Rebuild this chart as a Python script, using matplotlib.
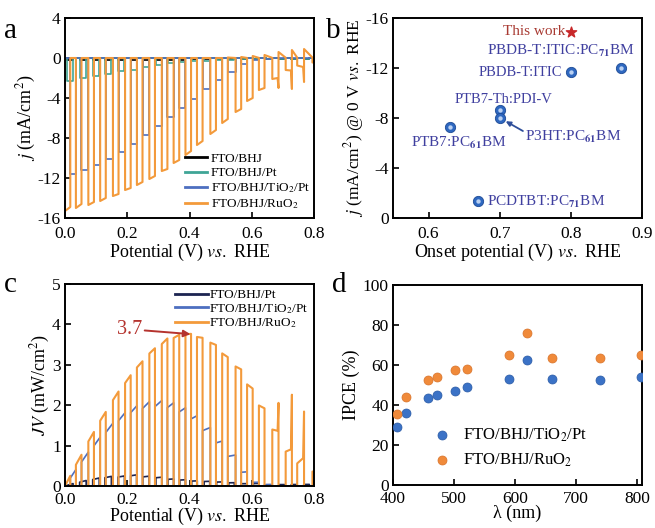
import matplotlib
matplotlib.use("Agg")
import matplotlib.pyplot as plt
import numpy as np

plt.rcParams["font.family"] = ["Liberation Serif", "DejaVu Serif"]
plt.rcParams["mathtext.fontset"] = "stix"
plt.rcParams["axes.unicode_minus"] = False

# ---------------- panel a / c : chopped light J-V ----------------
# FTO/BHJ/RuO2 light-on periods (V) and current levels (mA/cm2)
ru_on = [0.000, 0.035, 0.075, 0.113, 0.154, 0.193, 0.231, 0.271, 0.311, 0.349, 0.387,
         0.424, 0.467, 0.505, 0.548, 0.585, 0.623, 0.666, 0.709, 0.746, 0.795]
ru_off = [0.017, 0.053, 0.093, 0.131, 0.172, 0.211, 0.249, 0.289, 0.329, 0.367, 0.405,
          0.442, 0.485, 0.523, 0.566, 0.603, 0.641, 0.686, 0.729, 0.768, 0.800]
ru_j_start = [-15.3, -15.0, -14.7, -14.3, -13.8, -13.2, -12.7, -12.1, -11.3, -10.5, -9.7,
              -8.7, -7.6, -6.5, -5.4, -4.3, -3.2, -2.1, -1.2, -0.75, -0.45]
ru_j_end = [-14.9, -14.6, -14.4, -14.0, -13.6, -13.0, -12.4, -11.8, -11.1, -10.2, -9.3,
            -8.3, -7.2, -6.1, -5.1, -4.0, -3.0, -2.0, -1.25, -0.9, -0.45]
ru_spike = [0, 0, 0, 0, 0, 0, 0, 0, 0, 0, 0, 0, 0, 0, 0, 0, 0, -3.0, -3.1, -2.4, 0]
ru_dark = [0, 0, 0, 0, 0, 0, 0, 0, 0, 0, 0, 0, 0, 0.05, 0.1, 0.2, 0.3, 0.6, 0.8, 0.9, 0]

# FTO/BHJ/TiO2/Pt light-on periods and levels
ti_on = [0.017, 0.053, 0.093, 0.131, 0.172, 0.211, 0.249, 0.289, 0.329, 0.367,
         0.405, 0.442, 0.485, 0.523, 0.566, 0.603, 0.641, 0.686, 0.729, 0.768]
ti_off = [0.035, 0.075, 0.113, 0.154, 0.193, 0.231, 0.271, 0.311, 0.349, 0.387,
          0.424, 0.467, 0.505, 0.548, 0.585, 0.623, 0.666, 0.709, 0.746, 0.795]
ti_j = [-11.6, -11.2, -10.7, -10.1, -9.4, -8.6, -7.7, -6.8, -5.9, -5.0,
        -4.1, -3.1, -2.2, -1.4, -0.6, -0.15, -0.05, 0.0, 0.0, 0.0]

# FTO/BHJ/Pt and FTO/BHJ light-on periods and levels
pt_on = [0.005, 0.047, 0.089, 0.128, 0.170, 0.211, 0.250, 0.292, 0.331, 0.369,
         0.407, 0.447, 0.487, 0.526, 0.566, 0.605, 0.645, 0.687, 0.727, 0.767]
pt_off = [0.026, 0.068, 0.110, 0.149, 0.191, 0.230, 0.270, 0.311, 0.349, 0.387,
          0.425, 0.465, 0.505, 0.544, 0.584, 0.623, 0.663, 0.705, 0.745, 0.785]
pt_j = [-2.3, -2.0, -1.8, -1.6, -1.3, -1.2, -0.9, -0.7, -0.5, -0.4,
        -0.3, -0.25, -0.2, -0.15, -0.1, -0.1, -0.05, -0.05, -0.05, -0.05]
bhj_j = [-0.2, -0.2, -0.2, -0.2, -0.2, -0.2, -0.2, -0.2, -0.2, -0.2,
         -0.1, -0.1, -0.1, -0.1, -0.1, -0.1, -0.1, -0.1, -0.1, -0.1]

# ---------------- panel b : literature comparison ----------------
lit_names = ["PTB7:PC$_{\\mathbf{61}}$BM", "PCDTBT:PC$_{\\mathbf{71}}$BM", "PTB7-Th:PDI-V",
             "P3HT:PC$_{\\mathbf{61}}$BM", "PBDB-T:ITIC", "PBDB-T:ITIC:PC$_{\\mathbf{71}}$BM"]
lit_onset = [0.63, 0.669, 0.70, 0.70, 0.80, 0.871]
lit_j = [-7.25, -1.4, -8.65, -8.0, -11.65, -12.0]
this_onset = 0.80
this_j = -14.9

# ---------------- panel d : IPCE ----------------
wl = [406, 422, 457, 472, 501, 521, 590, 620, 660, 739, 807]
ipce_ti = [29.1, 35.8, 43.3, 44.9, 47.1, 49.1, 53.2, 62.4, 53.2, 52.4, 54.1]
ipce_ru = [35.4, 44.1, 52.6, 54.2, 57.4, 58.2, 64.9, 75.9, 63.7, 63.7, 65.1]

C_OR = "#f39a3b"
C_BL = "#4d6fc0"
C_TE = "#3fa596"
C_NV = "#1c2451"
C_TXT = "#3f3f9f"


def chopped(on, off, j_start, j_end, spike=None, dark=None):
    n = len(on)
    spike = spike if spike is not None else [0] * n
    dark = dark if dark is not None else [0] * n
    xs, ys = [0.0], [0.0]
    prev = 0.0
    for i in range(n):
        xs += [on[i], on[i]]
        ys += [0.0 if prev == 0 else 0.05 * prev, j_start[i]]
        if spike[i] != 0:
            xs += [off[i] - 0.003, off[i]]
            ys += [j_end[i], spike[i]]
        else:
            xs += [off[i]]
            ys += [j_end[i]]
        if off[i] < 0.8:
            xs += [off[i]]
            ys += [dark[i]]
        prev = dark[i]
    if xs[-1] < 0.8:
        xs.append(0.8)
        ys.append(ys[-1])
    return np.array(xs), np.array(ys)


def style(ax, xpad=6):
    for s in ax.spines.values():
        s.set_linewidth(1.4)
    ax.tick_params(direction="in", length=4, width=1.2, labelsize=12.5, pad=3)
    ax.tick_params(axis="x", pad=xpad)


fig = plt.figure(figsize=(6.55, 5.28), dpi=100)
W, H = 655.0, 528.0
ax_a = fig.add_axes([65 / W, 1 - 218 / H, 249 / W, 200 / H])
ax_b = fig.add_axes([393 / W, 1 - 218 / H, 249 / W, 200 / H])
ax_c = fig.add_axes([65 / W, 1 - 486 / H, 249 / W, 202 / H])
ax_d = fig.add_axes([393 / W, 1 - 485 / H, 249 / W, 200 / H])

x_ru, y_ru = chopped(ru_on, ru_off, ru_j_start, ru_j_end, ru_spike, ru_dark)
x_ti, y_ti = chopped(ti_on, ti_off, ti_j, ti_j)
x_pt, y_pt = chopped(pt_on, pt_off, pt_j, pt_j)
x_bhj, y_bhj = chopped(pt_on, pt_off, bhj_j, bhj_j)

# ---- a ----
ax_a.plot(x_bhj, y_bhj, color="black", lw=1.2, label="FTO/BHJ")
ax_a.plot(x_pt, y_pt, color=C_TE, lw=1.2, label="FTO/BHJ/Pt")
ax_a.plot(x_ti, y_ti, color=C_BL, lw=1.2, label="FTO/BHJ/TiO$_2$/Pt")
ax_a.plot(x_ru, y_ru, color=C_OR, lw=1.5, label="FTO/BHJ/RuO$_2$")
ax_a.set_xlim(0, 0.8)
ax_a.set_ylim(-16, 4)
ax_a.set_xticks([0.0, 0.2, 0.4, 0.6, 0.8])
ax_a.set_yticks([-16, -12, -8, -4, 0, 4])
ax_a.set_xlabel("Potential (V) $vs.$ RHE", fontsize=13, labelpad=0)
ax_a.set_ylabel("$j$ (mA/cm$^2$)", fontsize=13, labelpad=0)
style(ax_a)
leg = ax_a.legend(loc="lower left", bbox_to_anchor=(0.482, 0.035), frameon=False, fontsize=9.5,
                  handlelength=1.7, labelspacing=0.16, handletextpad=0.25,
                  borderpad=0, borderaxespad=0)
for h in leg.get_lines():
    h.set_linewidth(2.0)

# ---- b ----
ax_b.scatter(lit_onset, lit_j, s=55, color="#2f68c0", edgecolor="#1d4a95", linewidth=0.6, zorder=3)
ax_b.scatter(lit_onset, lit_j, s=10, color="#b9d0f2", linewidth=0, zorder=4)
ax_b.scatter([this_onset], [this_j], marker="*", s=60, color="#c8282a", zorder=3)
ax_b.text(this_onset - 0.008, this_j, "This work", color="#a83a32", fontsize=11,
          ha="right", va="center")
ax_b.text(0.576, -6.0, lit_names[0], color=C_TXT, fontsize=11, ha="left", va="center")
ax_b.text(0.682, -1.3, lit_names[1], color=C_TXT, fontsize=11, ha="left", va="center")
ax_b.text(0.636, -9.5, lit_names[2], color=C_TXT, fontsize=10.5, ha="left", va="center")
ax_b.text(0.735, -6.5, lit_names[3], color=C_TXT, fontsize=11, ha="left", va="center")
ax_b.text(0.788, -11.65, lit_names[4], color=C_TXT, fontsize=10.5, ha="right", va="center")
ax_b.text(0.682, -13.35, lit_names[5], color=C_TXT, fontsize=11, ha="left", va="center")
ax_b.annotate("", xy=(0.705, -7.85), xytext=(0.736, -6.85),
              arrowprops=dict(arrowstyle="-|>", color="#2f4f9a", lw=1.3, mutation_scale=7))
ax_b.set_xlim(0.55, 0.9)
ax_b.set_ylim(0, -16)
ax_b.set_xticks([0.6, 0.7, 0.8, 0.9])
ax_b.set_yticks([0, -4, -8, -12, -16])
ax_b.set_xlabel("Onset potential (V) $vs.$ RHE", fontsize=13, labelpad=0)
ax_b.set_ylabel("$j$ (mA/cm$^2$) @ 0 V $vs.$ RHE", fontsize=12.5, labelpad=-0.5)
style(ax_b)

# ---- c ----
ax_c.plot(x_pt, -y_pt * x_pt, color=C_NV, lw=1.2, label="FTO/BHJ/Pt")
ax_c.plot(x_ti, -y_ti * x_ti, color=C_BL, lw=1.2, label="FTO/BHJ/TiO$_2$/Pt")
ax_c.plot(x_ru, -y_ru * x_ru, color=C_OR, lw=1.5, label="FTO/BHJ/RuO$_2$")
ax_c.annotate("3.7", xy=(0.403, 3.76), xytext=(0.166, 3.88), color="#b5332e", fontsize=14.5,
              va="center", ha="left",
              arrowprops=dict(arrowstyle="-|>", color="#b5332e", lw=1.4, mutation_scale=10,
                              shrinkA=0, shrinkB=0))
ax_c.set_xlim(0, 0.8)
ax_c.set_ylim(0, 5)
ax_c.set_xticks([0.0, 0.2, 0.4, 0.6, 0.8])
ax_c.set_yticks([0, 1, 2, 3, 4, 5])
ax_c.set_xlabel("Potential (V) $vs.$ RHE", fontsize=13, labelpad=-1)
ax_c.set_ylabel("$JV$ (mW/cm$^2$)", fontsize=13, labelpad=0)
style(ax_c, xpad=4)
leg = ax_c.legend(loc="upper left", bbox_to_anchor=(0.442, 0.975), frameon=False, fontsize=9.5,
                  handlelength=2.5, labelspacing=0.05, handletextpad=0.1,
                  borderpad=0, borderaxespad=0)
for h in leg.get_lines():
    h.set_linewidth(2.0)

# ---- d ----
ax_d.scatter(wl, ipce_ti, s=42, color="#3b72c6", edgecolor="#2a5aa5", linewidth=0.5,
             label="FTO/BHJ/TiO$_2$/Pt", zorder=3)
ax_d.scatter(wl, ipce_ru, s=42, color="#f08a3a", edgecolor="#d8732a", linewidth=0.5,
             label="FTO/BHJ/RuO$_2$", zorder=3)
ax_d.set_xlim(400, 808)
ax_d.set_ylim(0, 100)
ax_d.set_xticks([400, 500, 600, 700, 800])
ax_d.set_yticks([0, 20, 40, 60, 80, 100])
ax_d.set_xlabel("λ (nm)", fontsize=13, labelpad=-1)
ax_d.set_ylabel("IPCE (%)", fontsize=13, labelpad=2)
style(ax_d, xpad=4)
ax_d.legend(loc="lower left", bbox_to_anchor=(0.163, 0.08), frameon=False, fontsize=12,
            handlelength=1.0, handletextpad=0.75, labelspacing=0.45, scatterpoints=1,
            borderpad=0, borderaxespad=0)

# panel letters
for txt, x, y in [("a", 4, 38), ("b", 326, 38), ("c", 4, 292), ("d", 332, 292)]:
    fig.text(x / W, 1 - y / H, txt, fontsize=21, ha="left", va="baseline")

fig.savefig("out.png", dpi=100)
